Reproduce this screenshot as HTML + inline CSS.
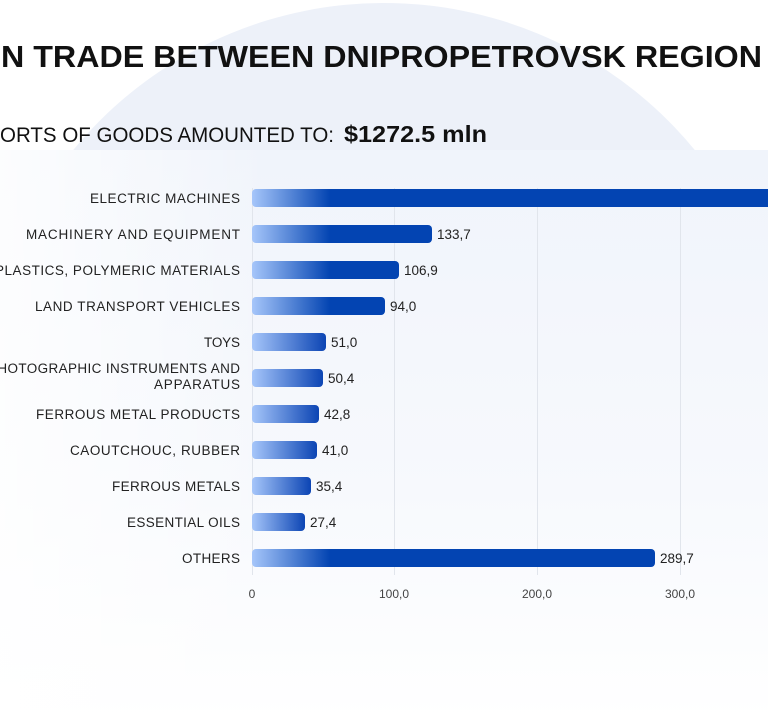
<!DOCTYPE html>
<html><head><meta charset="utf-8"><style>
html,body{margin:0;padding:0;background:#fff;overflow:hidden;width:768px;height:720px;}
svg{display:block;font-family:"Liberation Sans",sans-serif;}
</style></head><body>
<svg width="768" height="720" viewBox="0 0 768 720" xmlns="http://www.w3.org/2000/svg">
<defs>
<linearGradient id="panel" x1="0" y1="0" x2="0" y2="1">
<stop offset="0" stop-color="#f0f4fb"/><stop offset="0.6" stop-color="#f7f9fd"/><stop offset="1" stop-color="#ffffff"/>
</linearGradient>
<linearGradient id="panelL" x1="0" y1="0" x2="1" y2="0">
<stop offset="0" stop-color="#ffffff" stop-opacity="0.8"/><stop offset="0.35" stop-color="#ffffff" stop-opacity="0"/>
</linearGradient>
<linearGradient id="long" x1="252" y1="0" x2="330" y2="0" gradientUnits="userSpaceOnUse">
<stop offset="0" stop-color="#a6c6fa"/><stop offset="1" stop-color="#0344b2"/>
</linearGradient>
<linearGradient id="short" x1="0" y1="0" x2="1" y2="0">
<stop offset="0" stop-color="#a6c6fa"/><stop offset="1" stop-color="#0c45b4"/>
</linearGradient>
</defs>
<rect width="768" height="720" fill="#fff"/>
<circle cx="384" cy="405" r="402" fill="#edf1f9"/>
<rect x="0" y="150" width="768" height="570" fill="url(#panel)"/>
<rect x="0" y="150" width="768" height="570" fill="url(#panelL)"/>
<text x="1" y="67" font-size="31" font-weight="bold" fill="#111" textLength="761" lengthAdjust="spacingAndGlyphs">N TRADE BETWEEN DNIPROPETROVSK REGION</text>
<text x="0" y="142" font-size="21" fill="#111" textLength="334" lengthAdjust="spacingAndGlyphs">ORTS OF GOODS AMOUNTED TO:</text>
<text x="344" y="142" font-size="23" font-weight="bold" fill="#111" textLength="143" lengthAdjust="spacingAndGlyphs">$1272.5 mln</text>
<g stroke="#e1e5ec" stroke-width="1">
<line x1="252.5" y1="188" x2="252.5" y2="575"/>
<line x1="394.5" y1="188" x2="394.5" y2="575"/>
<line x1="537.5" y1="188" x2="537.5" y2="575"/>
<line x1="680.5" y1="188" x2="680.5" y2="575"/>
</g>
<g font-size="13.5" fill="#222" text-anchor="end" lengthAdjust="spacingAndGlyphs">
<text x="240" y="203" textLength="150">ELECTRIC MACHINES</text>
<text x="240" y="239" textLength="214">MACHINERY AND EQUIPMENT</text>
<text x="240" y="275" textLength="245">PLASTICS, POLYMERIC MATERIALS</text>
<text x="240" y="311" textLength="205">LAND TRANSPORT VEHICLES</text>
<text x="240" y="347" textLength="36">TOYS</text>
<text x="240" y="373" textLength="252">PHOTOGRAPHIC INSTRUMENTS AND</text>
<text x="240" y="389" textLength="86">APPARATUS</text>
<text x="240" y="419" textLength="204">FERROUS METAL PRODUCTS</text>
<text x="240" y="455" textLength="170">CAOUTCHOUC, RUBBER</text>
<text x="240" y="491" textLength="128">FERROUS METALS</text>
<text x="240" y="527" textLength="113">ESSENTIAL OILS</text>
<text x="240" y="563" textLength="58">OTHERS</text>
</g>
<g>
<rect x="252" y="189" width="530" height="18" rx="4" fill="url(#long)"/>
<rect x="252" y="225" width="180" height="18" rx="4" fill="url(#long)"/>
<rect x="252" y="261" width="147" height="18" rx="4" fill="url(#long)"/>
<rect x="252" y="297" width="133" height="18" rx="4" fill="url(#long)"/>
<rect x="252" y="333" width="74" height="18" rx="4" fill="url(#short)"/>
<rect x="252" y="369" width="71" height="18" rx="4" fill="url(#short)"/>
<rect x="252" y="405" width="67" height="18" rx="4" fill="url(#short)"/>
<rect x="252" y="441" width="65" height="18" rx="4" fill="url(#short)"/>
<rect x="252" y="477" width="59" height="18" rx="4" fill="url(#short)"/>
<rect x="252" y="513" width="53" height="18" rx="4" fill="url(#short)"/>
<rect x="252" y="549" width="403" height="18" rx="4" fill="url(#long)"/>
</g>
<g font-size="13.5" fill="#222">
<text x="437" y="239">133,7</text>
<text x="404" y="275">106,9</text>
<text x="390" y="311">94,0</text>
<text x="331" y="347">51,0</text>
<text x="328" y="383">50,4</text>
<text x="324" y="419">42,8</text>
<text x="322" y="455">41,0</text>
<text x="316" y="491">35,4</text>
<text x="310" y="527">27,4</text>
<text x="660" y="563">289,7</text>
</g>
<g font-size="12" fill="#444" text-anchor="middle">
<text x="252" y="598">0</text>
<text x="394" y="598">100,0</text>
<text x="537" y="598">200,0</text>
<text x="680" y="598">300,0</text>
</g>
</svg>
</body></html>
